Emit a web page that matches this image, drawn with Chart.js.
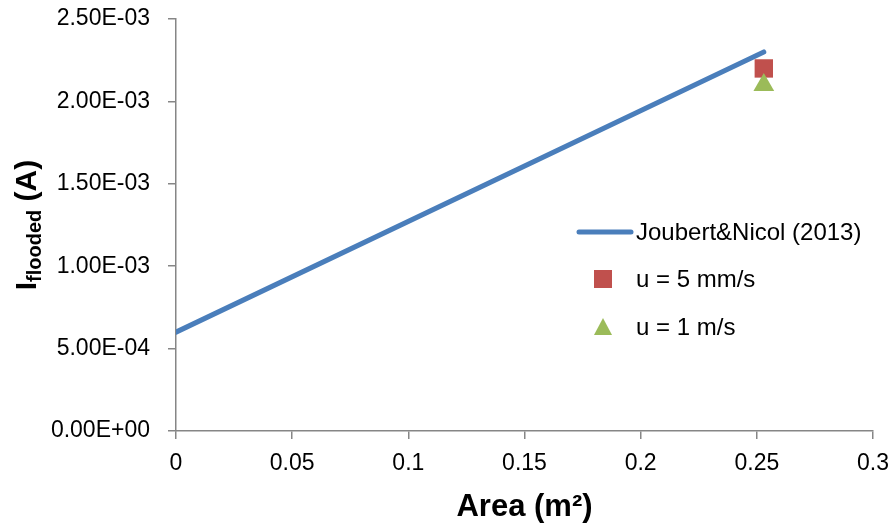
<!DOCTYPE html>
<html>
<head>
<meta charset="utf-8">
<script src="https://cdn.jsdelivr.net/npm/chart.js@4"></script>
<style>
  body { margin: 0; background: #fff; }
  canvas { display: block; }
</style>
</head>
<body>
<canvas id="myChart" width="890" height="527"></canvas>
<script>
// Joubert&Nicol (2013) correlation line
const lineX = [0, 0.253];
const lineY = [6.0e-4, 2.3e-3];
// u = 5 mm/s
const slowX = [0.253];
const slowY = [2.2e-3];
// u = 1 m/s
const fastX = [0.253];
const fastY = [2.1e-3];

const labels = ['Joubert&Nicol (2013)', 'u = 5 mm/s', 'u = 1 m/s'];
const FONT = '"Liberation Sans", Arial, sans-serif';

const toPoints = (xs, ys) => xs.map((x, i) => ({ x, y: ys[i] }));

// 2.50E-03 style labels
function sci(v) {
  if (v === 0) return '0.00E+00';
  const parts = v.toExponential(2).split('e');
  const exp = parseInt(parts[1], 10);
  const sign = exp < 0 ? '-' : '+';
  return parts[0] + 'E' + sign + String(Math.abs(exp)).padStart(2, '0');
}

const yTitle = {
  id: 'yTitle',
  afterDraw(chart) {
    const ctx = chart.ctx;
    const area = chart.chartArea;
    ctx.save();
    ctx.translate(36, (area.top + area.bottom) / 2);
    ctx.rotate(-Math.PI / 2);
    ctx.fillStyle = '#000';
    ctx.textBaseline = 'alphabetic';
    const big = 'bold 30px ' + FONT;
    const small = 'bold 20px ' + FONT;
    ctx.font = big;
    const wI = ctx.measureText('I').width;
    const wA = ctx.measureText(' (A)').width;
    ctx.font = small;
    const wSub = ctx.measureText('flooded').width;
    let x = -(wI + wSub + wA) / 2;
    ctx.font = big;
    ctx.fillText('I', x, 0);
    x += wI;
    ctx.font = small;
    ctx.fillText('flooded', x, 5);
    x += wSub;
    ctx.font = big;
    ctx.fillText(' (A)', x, 0);
    ctx.restore();
  }
};

const legendBox = {
  id: 'legendBox',
  afterDraw(chart) {
    const ctx = chart.ctx;
    const ds = chart.data.datasets;
    const x0 = 577, tx = 636;
    const rows = [232, 279, 327];
    ctx.save();
    ctx.font = '24px ' + FONT;
    ctx.fillStyle = '#000';
    ctx.textBaseline = 'middle';
    // line
    ctx.strokeStyle = ds[0].borderColor;
    ctx.lineWidth = 5;
    ctx.lineCap = 'round';
    ctx.beginPath();
    ctx.moveTo(x0 + 2, rows[0]);
    ctx.lineTo(tx - 5, rows[0]);
    ctx.stroke();
    // square
    ctx.fillStyle = ds[1].backgroundColor;
    ctx.fillRect(603 - 9, rows[1] - 9, 18, 18);
    // triangle
    ctx.fillStyle = ds[2].backgroundColor;
    ctx.beginPath();
    ctx.moveTo(603, rows[2] - 9);
    ctx.lineTo(603 + 9, rows[2] + 8);
    ctx.lineTo(603 - 9, rows[2] + 8);
    ctx.closePath();
    ctx.fill();
    ctx.fillStyle = '#000';
    labels.forEach((t, i) => ctx.fillText(t, tx, rows[i] + 1));
    ctx.restore();
  }
};

const data = {
  datasets: [
    {
      label: labels[0],
      data: toPoints(lineX, lineY),
      showLine: true,
      borderColor: '#4a7ebb',
      borderWidth: 5,
      borderCapStyle: 'round',
      pointRadius: 0,
      order: 3
    },
    {
      label: labels[1],
      data: toPoints(slowX, slowY),
      pointStyle: 'rect',
      pointRadius: 13,
      backgroundColor: '#c0504d',
      borderColor: '#c0504d',
      borderWidth: 0,
      order: 2
    },
    {
      label: labels[2],
      data: toPoints(fastX, fastY),
      pointStyle: 'triangle',
      pointRadius: 12,
      backgroundColor: '#9bbb59',
      borderColor: '#9bbb59',
      borderWidth: 0,
      order: 1
    }
  ]
};

const config = {
  type: 'scatter',
  data: data,
  options: {
    responsive: false,
    animation: false,
    devicePixelRatio: 1,
    layout: { padding: { top: 19, right: 17, left: 0, bottom: 0 } },
    plugins: {
      legend: { display: false },
      tooltip: { enabled: false }
    },
    scales: {
      x: {
        type: 'linear',
        min: 0,
        max: 0.3,
        ticks: {
          stepSize: 0.05,
          padding: 11,
          color: '#000',
          font: { family: FONT, size: 23 },
          callback: v => String(Math.round(v * 100) / 100)
        },
        grid: { drawOnChartArea: false, tickLength: 8, color: '#868686', lineWidth: 1.5 },
        border: { color: '#868686', width: 1.5 },
        title: {
          display: true,
          text: 'Area (m²)',
          color: '#000',
          font: { family: FONT, size: 31, weight: 'bold' },
          padding: { top: 0, bottom: 1 }
        },
        afterFit: s => {
          s.height = 96;
          s.paddingLeft = 0;
          s.paddingRight = 0;
        }
      },
      y: {
        type: 'linear',
        min: 0,
        max: 2.5e-3,
        ticks: {
          stepSize: 5e-4,
          padding: 18,
          color: '#000',
          font: { family: FONT, size: 23 },
          callback: v => sci(v)
        },
        grid: { drawOnChartArea: false, tickLength: 8, color: '#868686', lineWidth: 1.5 },
        border: { color: '#868686', width: 1.5 },
        afterFit: s => {
          s.width = 176;
          s.paddingTop = 0;
          s.paddingBottom = 0;
        }
      }
    }
  },
  plugins: [yTitle, legendBox]
};

const myChart = new Chart(document.querySelector('#myChart').getContext('2d'), config);
</script>
</body>
</html>
